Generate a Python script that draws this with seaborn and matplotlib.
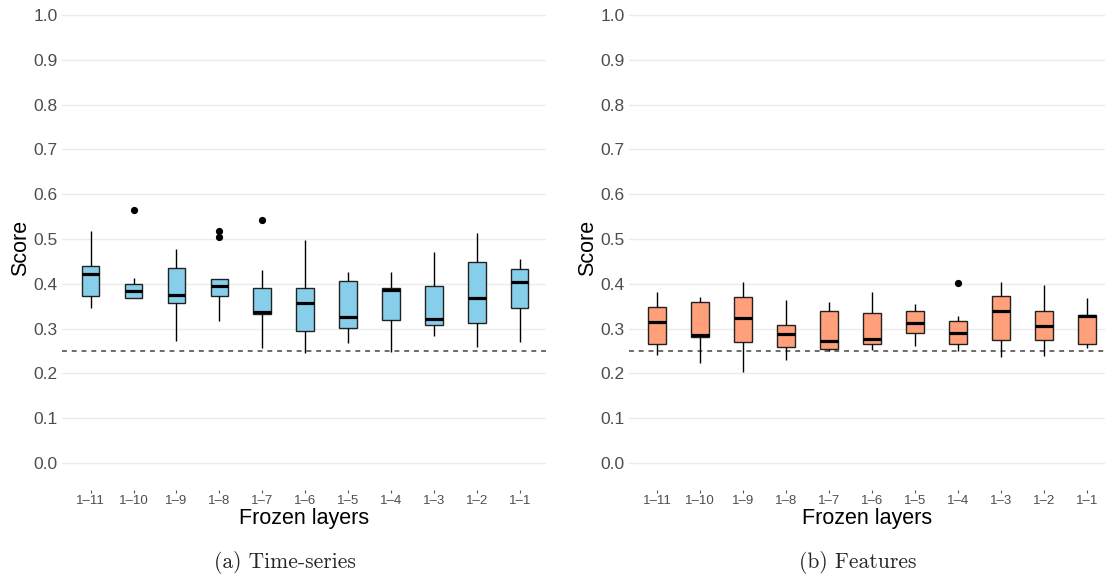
import numpy as np
import pandas as pd
import matplotlib
matplotlib.use("Agg")
import matplotlib.pyplot as plt
import seaborn as sns

# ---------------- data ----------------
layers = ["1–11", "1–10", "1–9", "1–8", "1–7", "1–6", "1–5", "1–4", "1–3", "1–2", "1–1"]
y_ticks = [0.0, 0.1, 0.2, 0.3, 0.4, 0.5, 0.6, 0.7, 0.8, 0.9, 1.0]
chance_level = 0.25

# (a) Time-series : five-number summaries + outliers
ts_lo  = [0.346, 0.369, 0.273, 0.318, 0.256, 0.245, 0.268, 0.248, 0.283, 0.260, 0.271]
ts_q1  = [0.373, 0.369, 0.358, 0.372, 0.332, 0.294, 0.302, 0.319, 0.308, 0.313, 0.346]
ts_med = [0.421, 0.384, 0.375, 0.395, 0.337, 0.358, 0.327, 0.387, 0.322, 0.369, 0.405]
ts_q3  = [0.440, 0.399, 0.436, 0.410, 0.391, 0.391, 0.407, 0.391, 0.396, 0.448, 0.434]
ts_hi  = [0.519, 0.413, 0.477, 0.410, 0.430, 0.498, 0.426, 0.427, 0.472, 0.514, 0.456]
ts_out = [[], [0.565], [], [0.518, 0.504], [0.542], [], [], [], [], [], []]

# (b) Features
ft_lo  = [0.242, 0.224, 0.204, 0.230, 0.250, 0.253, 0.262, 0.251, 0.236, 0.238, 0.256]
ft_q1  = [0.265, 0.281, 0.270, 0.259, 0.254, 0.265, 0.290, 0.265, 0.275, 0.274, 0.265]
ft_med = [0.315, 0.285, 0.323, 0.289, 0.273, 0.277, 0.313, 0.290, 0.340, 0.305, 0.329]
ft_q3  = [0.348, 0.360, 0.370, 0.308, 0.339, 0.335, 0.340, 0.317, 0.373, 0.339, 0.331]
ft_hi  = [0.381, 0.371, 0.404, 0.363, 0.360, 0.381, 0.356, 0.329, 0.404, 0.397, 0.369]
ft_out = [[], [], [], [], [], [], [], [0.401], [], [], []]


def build_frame(lo, q1, med, q3, hi, out):
    """9-value sample per box whose quartiles equal the read summary."""
    rows = []
    for i, lab in enumerate(layers):
        tail = [hi[i]] * (2 - len(out[i])) + list(out[i])
        sample = [lo[i], q1[i], q1[i], med[i], med[i], q3[i], q3[i]] + tail
        rows += [(lab, v) for v in sample]
    return pd.DataFrame(rows, columns=["layer", "score"])


df_ts = build_frame(ts_lo, ts_q1, ts_med, ts_q3, ts_hi, ts_out)
df_ft = build_frame(ft_lo, ft_q1, ft_med, ft_q3, ft_hi, ft_out)

# ---------------- styling ----------------
sns.set_theme(style="white")
plt.rcParams["font.family"] = ["Liberation Sans", "DejaVu Sans"]

W, H = 1105, 576
fig = plt.figure(figsize=(W / 100, H / 100), dpi=100)

ymin, ymax = -0.06, 1.02
bottom_px, top_px = 490, 6


def make_ax(left_px, right_px):
    return fig.add_axes([left_px / W, (H - bottom_px) / H,
                         (right_px - left_px) / W, (bottom_px - top_px) / H])


ax1 = make_ax(62, 546)
ax2 = make_ax(629, 1105)

panels = [
    (ax1, df_ts, "#87CEEB", (-0.669, 10.614), "(a) Time-series", 285),
    (ax2, df_ft, "#FFA07A", (-0.658, 10.412), "(b) Features", 858),
]

for ax, df, col, xlim, cap, cap_x in panels:
    sns.boxplot(data=df, x="layer", y="score", order=layers, ax=ax,
                color=col, saturation=1, width=0.41, linecolor="black",
                linewidth=1.0, showcaps=False, whis=1.5,
                medianprops={"linewidth": 2.3, "color": "black"},
                boxprops={"edgecolor": "#222222"},
                flierprops={"marker": "o", "markerfacecolor": "black",
                            "markeredgecolor": "black", "markersize": 4.2})
    ax.axhline(chance_level, color="#444444", lw=1.1, ls=(0, (3.2, 3.2)), zorder=1)
    ax.set_ylim(ymin, ymax)
    ax.set_xlim(*xlim)
    ax.set_yticks(y_ticks)
    ax.set_yticklabels([f"{t:.1f}" for t in y_ticks])
    ax.grid(axis="y", color="#EBEBEB", lw=1.0)
    ax.grid(axis="x", visible=False)
    ax.set_axisbelow(True)
    for s in ax.spines.values():
        s.set_visible(False)
    ax.tick_params(axis="y", length=0, pad=3, labelsize=12.5, labelcolor="#4D4D4D")
    ax.tick_params(axis="x", length=2.5, width=0.8, color="#555555", pad=1,
                   labelsize=9.5, labelcolor="#4D4D4D", bottom=True, direction="out")
    ax.set_xlabel("Frozen layers", fontsize=15.5, color="black", labelpad=0.5)
    ax.set_ylabel("Score", fontsize=15.5, color="black", labelpad=1.5)
    fig.text(cap_x / W, 1 - 562 / H, cap, ha="center", va="center",
             fontsize=15.5, family=["cmr10", "DejaVu Serif"])

fig.savefig("out.png", dpi=100)
